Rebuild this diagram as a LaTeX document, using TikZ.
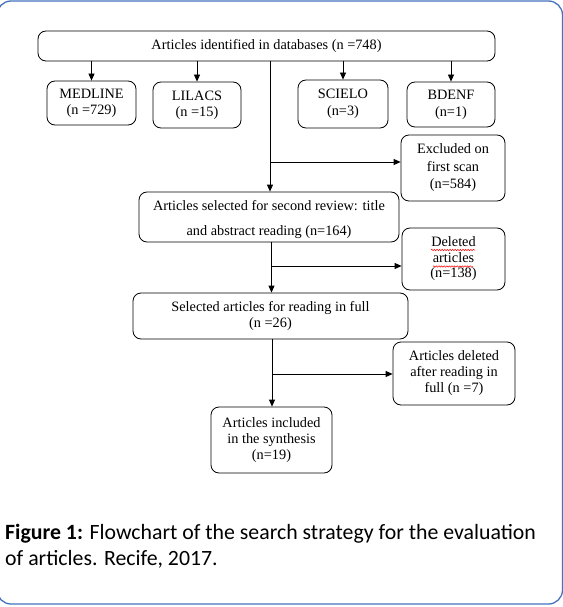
\documentclass[tikz,border=0pt]{standalone}
\usepackage{fontspec}
\setmainfont{Liberation Serif}
\newfontfamily\capfont{Carlito}
\usetikzlibrary{arrows.meta,decorations.pathmorphing}
\definecolor{frameblue}{RGB}{68,114,190}
\tikzset{
  box/.style={draw, line width=0.8pt, rounded corners=8pt, inner sep=0pt, align=center,
    font=\fontsize{14.3}{16}\selectfont, anchor=center},
  arr/.style={line width=0.8pt, -{Triangle[length=7pt,width=6pt]}},
  wavy/.style={red, line width=0.5pt, decorate, decoration={snake, amplitude=0.7pt, segment length=2.6pt}}
}
\begin{document}
\begin{tikzpicture}[x=1pt,y=-1pt]
\useasboundingbox (0,0) rectangle (562,607);
\draw[frameblue, line width=1.3pt, rounded corners=14pt] (-3,1) rectangle (562.5,604);

\node[box, minimum width=457pt, minimum height=30pt] (top) at (266.5,46) {Articles identified in databases (n =748)};
\node[box, minimum width=89pt, minimum height=44pt] (medline) at (91.5,103) {MEDLINE\\(n =729)};
\node[box, minimum width=88pt, minimum height=46pt] (lilacs) at (197,105) {LILACS\\(n =15)};
\node[box, minimum width=90pt, minimum height=48pt] (scielo) at (343,104) {SCIELO\\[1pt](n=3)};
\node[box, minimum width=88pt, minimum height=45pt] (bdenf) at (451,104.5) {BDENF\\[1pt](n=1)};

\node[box, minimum width=104pt, minimum height=66pt, font=\fontsize{14.3}{17.5}\selectfont] (excl) at (453,168) {Excluded on\\first scan\\(n=584)};
\node[box, minimum width=260pt, minimum height=50pt, font=\fontsize{14.3}{23}\selectfont] (second) at (269,217) {Articles selected for second review: title\\[0pt]\raisebox{-2pt}[0pt][0pt]{and abstract reading (n=164)}};
\node[box, minimum width=103pt, minimum height=62pt, font=\fontsize{14.3}{15.5}\selectfont] (del) at (453.5,259) {Deleted\\articles\\(n=138)};
\node[box, minimum width=275pt, minimum height=46pt] (third) at (270.5,316) {Selected articles for reading in full\\(n =26)};
\node[box, minimum width=122pt, minimum height=63pt] (artdel) at (454,373.5) {Articles deleted\\after reading in\\full (n =7)};
\node[box, minimum width=121pt, minimum height=66pt] (final) at (271.5,440) {Articles included\\in the synthesis\\(n=19)};

% spell-check underlines
\draw[wavy] (431,250) -- (475,250);
\draw[wavy] (433,266.5) -- (473,266.5);

% spine junctions
\coordinate (j1) at (270,162);
\coordinate (j2) at (271.5,266);
\coordinate (j3) at (272,374);

\foreach \b in {medline,lilacs,scielo,bdenf}{
  \draw[arr] (top.south -| \b.north) -- (\b.north);
}
\draw[arr] (top.south -| j1) -- (second.north -| j1);
\draw[arr] (j1) -- (j1 -| excl.west);
\draw[arr] (second.south -| j2) -- (third.north -| j2);
\draw[arr] (j2) -- (j2 -| del.west);
\draw[arr] (third.south -| j3) -- (final.north -| j3);
\draw[arr] (j3) -- (j3 -| artdel.west);

\node[anchor=base west, inner sep=0pt, font=\capfont\fontsize{21.8}{26}\selectfont, align=left] (cap) at (5,565)
  {\textbf{Figure 1:} Flowchart of the search strategy for the evaluation\\of articles. Recife, 2017.};
\end{tikzpicture}
\end{document}
